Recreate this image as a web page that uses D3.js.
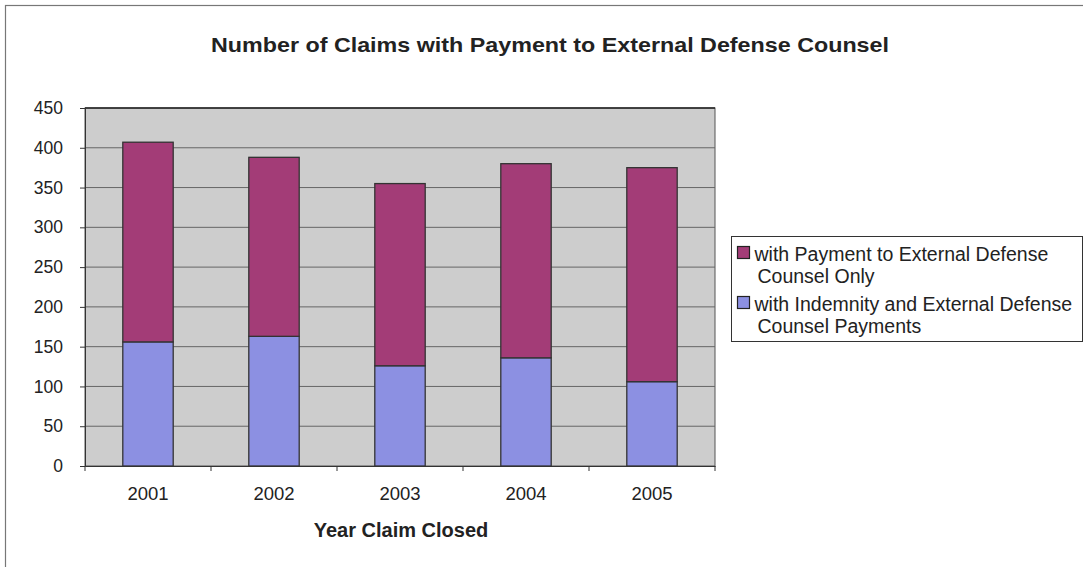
<!DOCTYPE html>
<html>
<head>
<meta charset="utf-8">
<script src="https://cdn.jsdelivr.net/npm/d3@7"></script>
<style>
  html, body { margin: 0; padding: 0; background: #fff; }
  svg { display: block; font-family: "Liberation Sans", Arial, sans-serif; }
</style>
</head>
<body>
<svg id="chart" width="1083" height="567"></svg>
<script>
// Claims closed per year, split by payment type
const years = ["2001", "2002", "2003", "2004", "2005"];
const indemnityAndDefense = [156, 163, 126, 136, 106];
const defenseOnly = [251, 225, 229, 244, 269];
const seriesNames = [
  ["with Payment to External Defense", "Counsel Only"],
  ["with Indemnity and External Defense", "Counsel Payments"]
];
const yTicks = [0, 50, 100, 150, 200, 250, 300, 350, 400, 450];

const colors = { defense: "#a33c77", indemnity: "#8c90e2", plot: "#cdcdcd" };
const FONT = "Liberation Sans, Arial, sans-serif";

const svg = d3.select("#chart");
const margin = { left: 85, right: 368, top: 108, bottom: 101 };
const W = 1083, H = 567;
const pw = W - margin.left - margin.right;
const ph = H - margin.top - margin.bottom;

// outer chart frame
svg.append("rect").attr("x", 5.5).attr("y", 5.5).attr("width", 1100).attr("height", 600)
  .attr("fill", "none").attr("stroke", "#777").attr("stroke-width", 1.2);

svg.append("text").attr("x", 550).attr("y", 52).attr("text-anchor", "middle")
  .attr("font-size", 21).attr("font-weight", "bold").attr("fill", "#222")
  .attr("textLength", 678).attr("lengthAdjust", "spacingAndGlyphs")
  .text("Number of Claims with Payment to External Defense Counsel");

const g = svg.append("g").attr("transform", `translate(${margin.left},${margin.top})`);

const x = d3.scaleBand().domain(years).range([0, pw]).paddingInner(0.6).paddingOuter(0.3);
const y = d3.scaleLinear().domain([0, 450]).range([ph, 0]);

g.append("rect").attr("width", pw).attr("height", ph).attr("fill", colors.plot)
  .attr("stroke", "#555").attr("stroke-width", 1);

// horizontal gridlines
g.selectAll("line.grid").data(yTicks.slice(1, -1)).join("line")
  .attr("class", "grid")
  .attr("x1", 0).attr("x2", pw)
  .attr("y1", d => y(d)).attr("y2", d => y(d))
  .attr("stroke", "#666").attr("stroke-width", 1);
g.append("line").attr("x1", 0).attr("x2", pw).attr("y1", 0).attr("y2", 0)
  .attr("stroke", "#222").attr("stroke-width", 1.5);

// stacked bars
const stackData = years.map((yr, i) => ({ year: yr, indemnity: indemnityAndDefense[i], defense: defenseOnly[i] }));
const stack = d3.stack().keys(["indemnity", "defense"])(stackData);
g.selectAll("g.layer").data(stack).join("g")
  .attr("class", "layer")
  .attr("fill", d => colors[d.key])
  .selectAll("rect").data(d => d).join("rect")
  .attr("x", d => x(d.data.year))
  .attr("width", x.bandwidth())
  .attr("y", d => y(d[1]))
  .attr("height", d => y(d[0]) - y(d[1]))
  .attr("stroke", "#333").attr("stroke-width", 1.3);

// y axis
const yAxis = g.append("g").call(d3.axisLeft(y).tickValues(yTicks).tickSize(5).tickPadding(17));
yAxis.select(".domain").attr("stroke", "#333");
yAxis.selectAll("line").attr("stroke", "#333");
yAxis.selectAll("text").attr("font-size", 17.5).attr("fill", "#222").attr("font-family", FONT);

// x axis with ticks between categories
const xAxis = g.append("g").attr("transform", `translate(0,${ph})`)
  .call(d3.axisBottom(x).tickSize(0).tickPadding(21));
xAxis.select(".domain").attr("stroke", "#333");
xAxis.selectAll("text").attr("font-size", 18.5).attr("fill", "#222").attr("font-family", FONT);
const step = pw / years.length;
g.selectAll("line.xtick").data(d3.range(years.length + 1)).join("line")
  .attr("class", "xtick")
  .attr("x1", d => d * step).attr("x2", d => d * step)
  .attr("y1", ph).attr("y2", ph + 5).attr("stroke", "#333");

svg.append("text").attr("x", margin.left + pw / 2 + 1).attr("y", 537)
  .attr("text-anchor", "middle").attr("font-size", 20).attr("font-weight", "bold")
  .attr("fill", "#222").text("Year Claim Closed");

// legend
const lg = svg.append("g").attr("transform", "translate(731.5,236.5)");
lg.append("rect").attr("width", 351).attr("height", 105)
  .attr("fill", "#fff").attr("stroke", "#333").attr("stroke-width", 1);
const legendItems = [
  { color: colors.defense, lines: seriesNames[0] },
  { color: colors.indemnity, lines: seriesNames[1] }
];
legendItems.forEach((item, i) => {
  const yy = 24 + i * 50;
  lg.append("rect").attr("x", 6).attr("y", yy - 14).attr("width", 12).attr("height", 12)
    .attr("fill", item.color).attr("stroke", "#222").attr("stroke-width", 1.2);
  const t = lg.append("text").attr("font-size", 19.5).attr("fill", "#222");
  item.lines.forEach((ln, j) => {
    t.append("tspan").attr("x", j === 0 ? 23 : 26).attr("y", yy + j * 22).text(ln);
  });
});
</script>
</body>
</html>
